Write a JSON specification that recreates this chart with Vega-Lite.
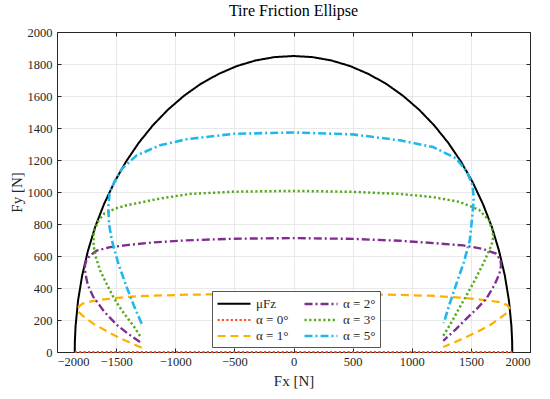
{
  "$schema": "https://vega.github.io/schema/vega-lite/v6.json",
  "width": 473,
  "height": 320,
  "autosize": {"type": "none"},
  "padding": {"left": 57, "top": 32, "right": 20, "bottom": 47},
  "background": "white",
  "config": {
    "font": "Liberation Serif",
    "view": {"stroke": null},
    "axis": {
      "labelFont": "Liberation Serif",
      "titleFont": "Liberation Serif",
      "labelColor": "#262626",
      "titleColor": "#262626",
      "labelFontSize": 12.5,
      "titleFontSize": 15,
      "titleFontWeight": "normal",
      "domainColor": "#262626",
      "domainWidth": 1,
      "tickColor": "#262626",
      "gridColor": "#E3E3E3",
      "gridWidth": 0.8,
      "zindex": 0
    }
  },
  "title": {
    "text": "Tire Friction Ellipse",
    "font": "Liberation Serif",
    "fontSize": 16,
    "fontWeight": "normal",
    "color": "#000000",
    "offset": 7,
    "anchor": "middle"
  },
  "data": {
    "values": [
      {"series": "μFz", "ord": 0, "fx": -1850, "fy": 0},
      {"series": "μFz", "ord": 1, "fx": -1849, "fy": 65},
      {"series": "μFz", "ord": 2, "fx": -1843, "fy": 161},
      {"series": "μFz", "ord": 3, "fx": -1822, "fy": 321},
      {"series": "μFz", "ord": 4, "fx": -1787, "fy": 479},
      {"series": "μFz", "ord": 5, "fx": -1738, "fy": 633},
      {"series": "μFz", "ord": 6, "fx": -1677, "fy": 782},
      {"series": "μFz", "ord": 7, "fx": -1602, "fy": 925},
      {"series": "μFz", "ord": 8, "fx": -1515, "fy": 1061},
      {"series": "μFz", "ord": 9, "fx": -1417, "fy": 1189},
      {"series": "μFz", "ord": 10, "fx": -1308, "fy": 1308},
      {"series": "μFz", "ord": 11, "fx": -1189, "fy": 1417},
      {"series": "μFz", "ord": 12, "fx": -1061, "fy": 1515},
      {"series": "μFz", "ord": 13, "fx": -925, "fy": 1602},
      {"series": "μFz", "ord": 14, "fx": -782, "fy": 1677},
      {"series": "μFz", "ord": 15, "fx": -633, "fy": 1738},
      {"series": "μFz", "ord": 16, "fx": -479, "fy": 1787},
      {"series": "μFz", "ord": 17, "fx": -321, "fy": 1822},
      {"series": "μFz", "ord": 18, "fx": -161, "fy": 1843},
      {"series": "μFz", "ord": 19, "fx": 0, "fy": 1850},
      {"series": "μFz", "ord": 20, "fx": 161, "fy": 1843},
      {"series": "μFz", "ord": 21, "fx": 321, "fy": 1822},
      {"series": "μFz", "ord": 22, "fx": 479, "fy": 1787},
      {"series": "μFz", "ord": 23, "fx": 633, "fy": 1738},
      {"series": "μFz", "ord": 24, "fx": 782, "fy": 1677},
      {"series": "μFz", "ord": 25, "fx": 925, "fy": 1602},
      {"series": "μFz", "ord": 26, "fx": 1061, "fy": 1515},
      {"series": "μFz", "ord": 27, "fx": 1189, "fy": 1417},
      {"series": "μFz", "ord": 28, "fx": 1308, "fy": 1308},
      {"series": "μFz", "ord": 29, "fx": 1417, "fy": 1189},
      {"series": "μFz", "ord": 30, "fx": 1515, "fy": 1061},
      {"series": "μFz", "ord": 31, "fx": 1602, "fy": 925},
      {"series": "μFz", "ord": 32, "fx": 1677, "fy": 782},
      {"series": "μFz", "ord": 33, "fx": 1738, "fy": 633},
      {"series": "μFz", "ord": 34, "fx": 1787, "fy": 479},
      {"series": "μFz", "ord": 35, "fx": 1822, "fy": 321},
      {"series": "μFz", "ord": 36, "fx": 1843, "fy": 161},
      {"series": "μFz", "ord": 37, "fx": 1849, "fy": 65},
      {"series": "μFz", "ord": 38, "fx": 1850, "fy": 0},

      {"series": "α = 0°", "ord": 0, "fx": -1850, "fy": 0},
      {"series": "α = 0°", "ord": 1, "fx": -1000, "fy": 0},
      {"series": "α = 0°", "ord": 2, "fx": 0, "fy": 0},
      {"series": "α = 0°", "ord": 3, "fx": 1000, "fy": 0},
      {"series": "α = 0°", "ord": 4, "fx": 1850, "fy": 0},

      {"series": "α = 1°", "ord": 0, "fx": -1284, "fy": 27},
      {"series": "α = 1°", "ord": 1, "fx": -1380, "fy": 58},
      {"series": "α = 1°", "ord": 2, "fx": -1467, "fy": 86},
      {"series": "α = 1°", "ord": 3, "fx": -1580, "fy": 130},
      {"series": "α = 1°", "ord": 4, "fx": -1693, "fy": 177},
      {"series": "α = 1°", "ord": 5, "fx": -1775, "fy": 222},
      {"series": "α = 1°", "ord": 6, "fx": -1830, "fy": 258},
      {"series": "α = 1°", "ord": 7, "fx": -1815, "fy": 284},
      {"series": "α = 1°", "ord": 8, "fx": -1785, "fy": 302},
      {"series": "α = 1°", "ord": 9, "fx": -1700, "fy": 318},
      {"series": "α = 1°", "ord": 10, "fx": -1600, "fy": 329},
      {"series": "α = 1°", "ord": 11, "fx": -1411, "fy": 344},
      {"series": "α = 1°", "ord": 12, "fx": -1200, "fy": 352},
      {"series": "α = 1°", "ord": 13, "fx": -904, "fy": 358},
      {"series": "α = 1°", "ord": 14, "fx": -500, "fy": 362},
      {"series": "α = 1°", "ord": 15, "fx": 0, "fy": 363},
      {"series": "α = 1°", "ord": 16, "fx": 500, "fy": 361},
      {"series": "α = 1°", "ord": 17, "fx": 899, "fy": 357},
      {"series": "α = 1°", "ord": 18, "fx": 1200, "fy": 350},
      {"series": "α = 1°", "ord": 19, "fx": 1407, "fy": 340},
      {"series": "α = 1°", "ord": 20, "fx": 1600, "fy": 326},
      {"series": "α = 1°", "ord": 21, "fx": 1745, "fy": 312},
      {"series": "α = 1°", "ord": 22, "fx": 1810, "fy": 292},
      {"series": "α = 1°", "ord": 23, "fx": 1826, "fy": 274},
      {"series": "α = 1°", "ord": 24, "fx": 1812, "fy": 250},
      {"series": "α = 1°", "ord": 25, "fx": 1740, "fy": 208},
      {"series": "α = 1°", "ord": 26, "fx": 1660, "fy": 167},
      {"series": "α = 1°", "ord": 27, "fx": 1563, "fy": 130},
      {"series": "α = 1°", "ord": 28, "fx": 1463, "fy": 94},
      {"series": "α = 1°", "ord": 29, "fx": 1360, "fy": 60},
      {"series": "α = 1°", "ord": 30, "fx": 1266, "fy": 31},

      {"series": "α = 2°", "ord": 0, "fx": -1298, "fy": 62},
      {"series": "α = 2°", "ord": 1, "fx": -1400, "fy": 115},
      {"series": "α = 2°", "ord": 2, "fx": -1495, "fy": 170},
      {"series": "α = 2°", "ord": 3, "fx": -1600, "fy": 252},
      {"series": "α = 2°", "ord": 4, "fx": -1693, "fy": 344},
      {"series": "α = 2°", "ord": 5, "fx": -1740, "fy": 420},
      {"series": "α = 2°", "ord": 6, "fx": -1760, "fy": 490},
      {"series": "α = 2°", "ord": 7, "fx": -1764, "fy": 540},
      {"series": "α = 2°", "ord": 8, "fx": -1750, "fy": 578},
      {"series": "α = 2°", "ord": 9, "fx": -1718, "fy": 604},
      {"series": "α = 2°", "ord": 10, "fx": -1664, "fy": 634},
      {"series": "α = 2°", "ord": 11, "fx": -1550, "fy": 655},
      {"series": "α = 2°", "ord": 12, "fx": -1411, "fy": 668},
      {"series": "α = 2°", "ord": 13, "fx": -1200, "fy": 684},
      {"series": "α = 2°", "ord": 14, "fx": -904, "fy": 698},
      {"series": "α = 2°", "ord": 15, "fx": -500, "fy": 708},
      {"series": "α = 2°", "ord": 16, "fx": 0, "fy": 712},
      {"series": "α = 2°", "ord": 17, "fx": 500, "fy": 707},
      {"series": "α = 2°", "ord": 18, "fx": 899, "fy": 695},
      {"series": "α = 2°", "ord": 19, "fx": 1200, "fy": 680},
      {"series": "α = 2°", "ord": 20, "fx": 1435, "fy": 666},
      {"series": "α = 2°", "ord": 21, "fx": 1600, "fy": 645},
      {"series": "α = 2°", "ord": 22, "fx": 1712, "fy": 615},
      {"series": "α = 2°", "ord": 23, "fx": 1750, "fy": 575},
      {"series": "α = 2°", "ord": 24, "fx": 1755, "fy": 540},
      {"series": "α = 2°", "ord": 25, "fx": 1742, "fy": 490},
      {"series": "α = 2°", "ord": 26, "fx": 1700, "fy": 420},
      {"series": "α = 2°", "ord": 27, "fx": 1632, "fy": 334},
      {"series": "α = 2°", "ord": 28, "fx": 1550, "fy": 270},
      {"series": "α = 2°", "ord": 29, "fx": 1463, "fy": 209},
      {"series": "α = 2°", "ord": 30, "fx": 1370, "fy": 140},
      {"series": "α = 2°", "ord": 31, "fx": 1266, "fy": 70},

      {"series": "α = 3°", "ord": 0, "fx": -1298, "fy": 100},
      {"series": "α = 3°", "ord": 1, "fx": -1350, "fy": 160},
      {"series": "α = 3°", "ord": 2, "fx": -1411, "fy": 219},
      {"series": "α = 3°", "ord": 3, "fx": -1470, "fy": 280},
      {"series": "α = 3°", "ord": 4, "fx": -1524, "fy": 344},
      {"series": "α = 3°", "ord": 5, "fx": -1580, "fy": 425},
      {"series": "α = 3°", "ord": 6, "fx": -1636, "fy": 511},
      {"series": "α = 3°", "ord": 7, "fx": -1670, "fy": 590},
      {"series": "α = 3°", "ord": 8, "fx": -1690, "fy": 660},
      {"series": "α = 3°", "ord": 9, "fx": -1692, "fy": 730},
      {"series": "α = 3°", "ord": 10, "fx": -1680, "fy": 770},
      {"series": "α = 3°", "ord": 11, "fx": -1648, "fy": 822},
      {"series": "α = 3°", "ord": 12, "fx": -1600, "fy": 866},
      {"series": "α = 3°", "ord": 13, "fx": -1500, "fy": 898},
      {"series": "α = 3°", "ord": 14, "fx": -1411, "fy": 917},
      {"series": "α = 3°", "ord": 15, "fx": -1129, "fy": 959},
      {"series": "α = 3°", "ord": 16, "fx": -876, "fy": 988},
      {"series": "α = 3°", "ord": 17, "fx": -500, "fy": 1002},
      {"series": "α = 3°", "ord": 18, "fx": 0, "fy": 1007},
      {"series": "α = 3°", "ord": 19, "fx": 500, "fy": 1001},
      {"series": "α = 3°", "ord": 20, "fx": 899, "fy": 988},
      {"series": "α = 3°", "ord": 21, "fx": 1181, "fy": 968},
      {"series": "α = 3°", "ord": 22, "fx": 1407, "fy": 938},
      {"series": "α = 3°", "ord": 23, "fx": 1570, "fy": 888},
      {"series": "α = 3°", "ord": 24, "fx": 1650, "fy": 825},
      {"series": "α = 3°", "ord": 25, "fx": 1680, "fy": 765},
      {"series": "α = 3°", "ord": 26, "fx": 1690, "fy": 720},
      {"series": "α = 3°", "ord": 27, "fx": 1675, "fy": 670},
      {"series": "α = 3°", "ord": 28, "fx": 1610, "fy": 560},
      {"series": "α = 3°", "ord": 29, "fx": 1520, "fy": 430},
      {"series": "α = 3°", "ord": 30, "fx": 1407, "fy": 281},
      {"series": "α = 3°", "ord": 31, "fx": 1335, "fy": 185},
      {"series": "α = 3°", "ord": 32, "fx": 1266, "fy": 100},

      {"series": "α = 5°", "ord": 0, "fx": -1284, "fy": 177},
      {"series": "α = 5°", "ord": 1, "fx": -1350, "fy": 290},
      {"series": "α = 5°", "ord": 2, "fx": -1411, "fy": 406},
      {"series": "α = 5°", "ord": 3, "fx": -1480, "fy": 550},
      {"series": "α = 5°", "ord": 4, "fx": -1536, "fy": 698},
      {"series": "α = 5°", "ord": 5, "fx": -1560, "fy": 800},
      {"series": "α = 5°", "ord": 6, "fx": -1566, "fy": 906},
      {"series": "α = 5°", "ord": 7, "fx": -1556, "fy": 990},
      {"series": "α = 5°", "ord": 8, "fx": -1515, "fy": 1062},
      {"series": "α = 5°", "ord": 9, "fx": -1450, "fy": 1146},
      {"series": "α = 5°", "ord": 10, "fx": -1326, "fy": 1229},
      {"series": "α = 5°", "ord": 11, "fx": -1129, "fy": 1292},
      {"series": "α = 5°", "ord": 12, "fx": -904, "fy": 1330},
      {"series": "α = 5°", "ord": 13, "fx": -500, "fy": 1364},
      {"series": "α = 5°", "ord": 14, "fx": 0, "fy": 1372},
      {"series": "α = 5°", "ord": 15, "fx": 500, "fy": 1360},
      {"series": "α = 5°", "ord": 16, "fx": 899, "fy": 1323},
      {"series": "α = 5°", "ord": 17, "fx": 1181, "fy": 1281},
      {"series": "α = 5°", "ord": 18, "fx": 1378, "fy": 1209},
      {"series": "α = 5°", "ord": 19, "fx": 1466, "fy": 1125},
      {"series": "α = 5°", "ord": 20, "fx": 1515, "fy": 1042},
      {"series": "α = 5°", "ord": 21, "fx": 1524, "fy": 960},
      {"series": "α = 5°", "ord": 22, "fx": 1519, "fy": 900},
      {"series": "α = 5°", "ord": 23, "fx": 1491, "fy": 698},
      {"series": "α = 5°", "ord": 24, "fx": 1440, "fy": 560},
      {"series": "α = 5°", "ord": 25, "fx": 1378, "fy": 427},
      {"series": "α = 5°", "ord": 26, "fx": 1320, "fy": 300},
      {"series": "α = 5°", "ord": 27, "fx": 1270, "fy": 180}
    ]
  },
  "layer": [
    {
      "mark": {"type": "line", "strokeCap": "butt"},
      "encoding": {
        "x": {
          "field": "fx", "type": "quantitative",
          "scale": {"domain": [-2000, 2000], "nice": false, "zero": false},
          "axis": {
            "values": [-2000, -1500, -1000, -500, 0, 500, 1000, 1500, 2000],
            "format": "d",
            "tickSize": -4, "labelPadding": 7, "title": "Fx [N]", "titlePadding": 6, "grid": true
          }
        },
        "y": {
          "field": "fy", "type": "quantitative",
          "scale": {"domain": [0, 2000], "nice": false},
          "axis": {
            "values": [0, 200, 400, 600, 800, 1000, 1200, 1400, 1600, 1800, 2000],
            "format": "d",
            "tickSize": -4, "labelPadding": 9, "title": "Fy [N]", "titlePadding": 3, "grid": true
          }
        },
        "order": {"field": "ord", "type": "quantitative"},
        "color": {
          "field": "series", "type": "nominal",
          "scale": {
            "domain": ["μFz", "α = 0°", "α = 1°", "α = 2°", "α = 3°", "α = 5°"],
            "range": ["#000000", "#FF4A1C", "#FDB000", "#7E2F8E", "#55AA1A", "#1EB8EC"]
          },
          "legend": {
            "title": null,
            "orient": "none",
            "legendX": 155,
            "legendY": 259,
            "columns": 2,
            "columnPadding": 10,
            "rowPadding": 0,
            "padding": 4,
            "fillColor": "white",
            "strokeColor": "#555555",
            "symbolType": "M-1,0H3.4",
            "symbolSize": 225,
            "symbolStrokeWidth": 2,
            "labelOffset": 22,
            "labelFont": "Liberation Serif",
            "labelFontSize": 13,
            "labelColor": "#262626"
          }
        },
        "strokeWidth": {
          "field": "series", "type": "nominal",
          "scale": {
            "domain": ["μFz", "α = 0°", "α = 1°", "α = 2°", "α = 3°", "α = 5°"],
            "range": [2, 2.6, 2, 2.2, 2.2, 2.2]
          },
          "legend": null
        },
        "strokeDash": {
          "field": "series", "type": "nominal",
          "scale": {
            "domain": ["μFz", "α = 0°", "α = 1°", "α = 2°", "α = 3°", "α = 5°"],
            "range": [[1, 0], [2.2, 2.2], [8, 5], [8, 3, 2, 3], [2.2, 2.5], [8, 3, 2, 3]]
          }
        }
      }
    },
    {
      "mark": {"type": "point", "opacity": 0},
      "encoding": {
        "x": {
          "field": "fx", "type": "quantitative",
          "axis": {
            "orient": "top", "values": [-2000, -1500, -1000, -500, 0, 500, 1000, 1500, 2000],
            "tickSize": -4, "labels": false, "title": null, "grid": false
          }
        },
        "y": {
          "field": "fy", "type": "quantitative",
          "axis": {
            "orient": "right", "values": [0, 200, 400, 600, 800, 1000, 1200, 1400, 1600, 1800, 2000],
            "tickSize": -4, "labels": false, "title": null, "grid": false
          }
        }
      }
    }
  ],
  "resolve": {"axis": {"x": "independent", "y": "independent"}}
}
